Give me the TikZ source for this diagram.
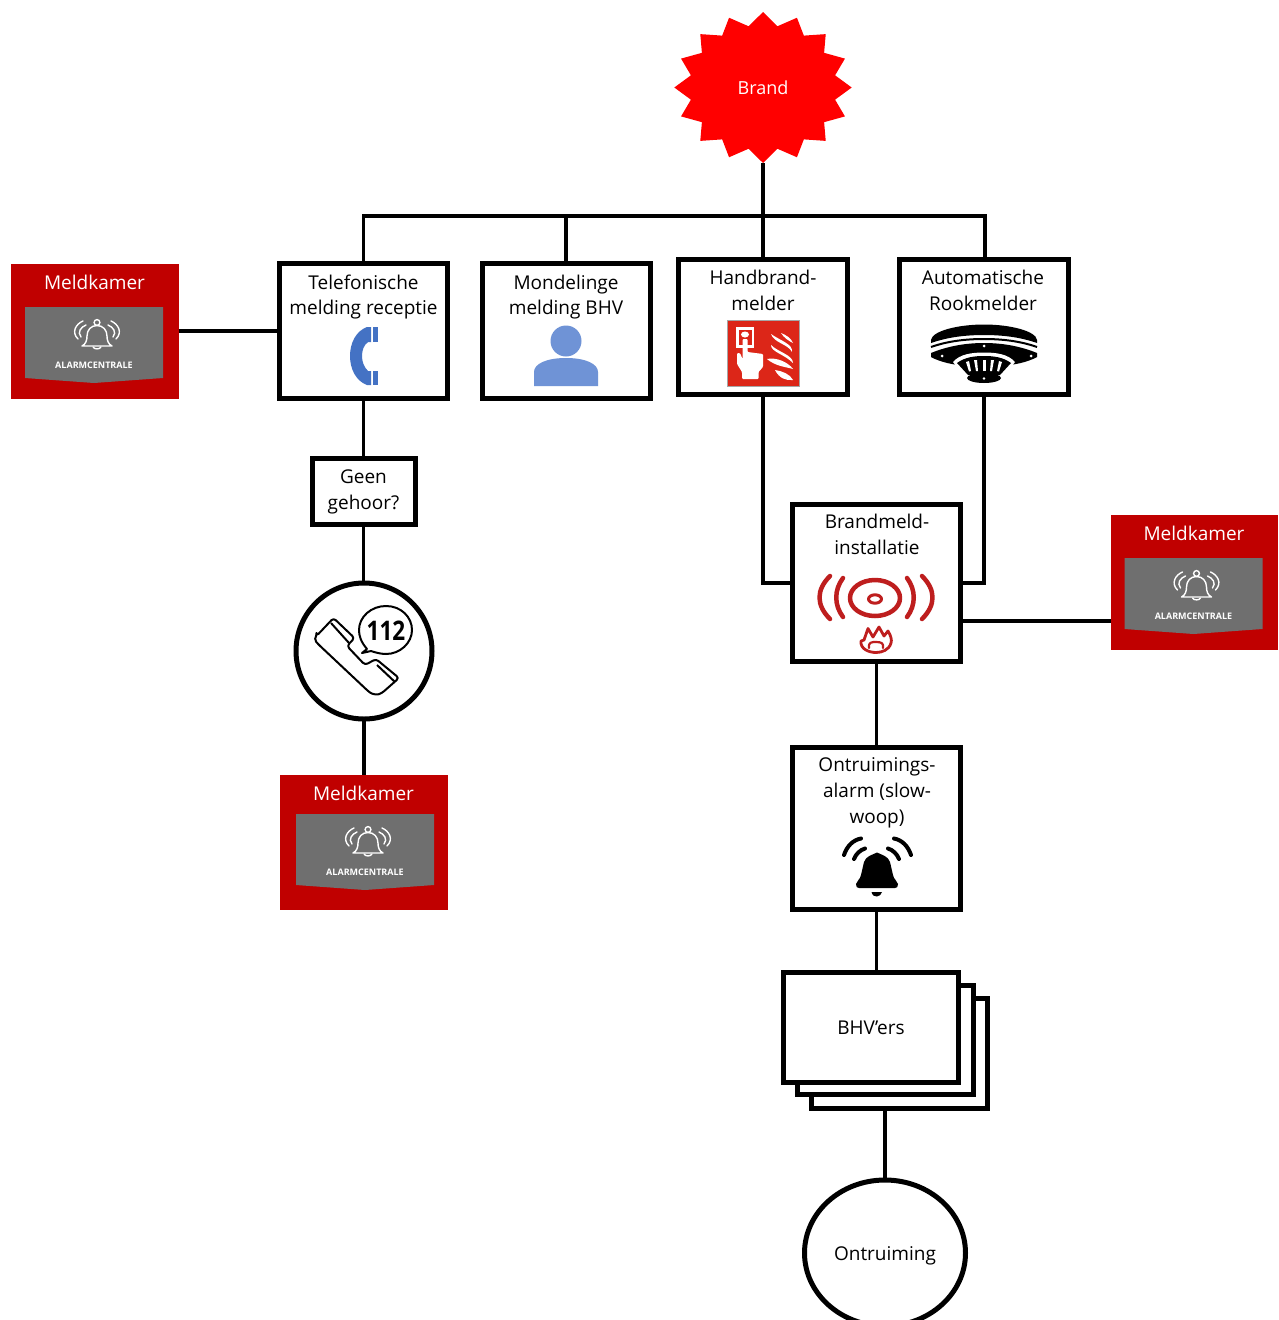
\documentclass[tikz,border=0pt]{standalone}
\usepackage{fontspec}
\usepackage{graphicx}
\usetikzlibrary{shapes.geometric,calc}
\setmainfont{Open Sans}
\definecolor{mkred}{HTML}{C00000}
\definecolor{mkgrey}{HTML}{6F6F6F}
\definecolor{phoneblue}{HTML}{4472C4}
\definecolor{personblue}{HTML}{6F93D6}
\definecolor{signred}{HTML}{DC2618}
\definecolor{alarmred}{HTML}{BE1E1E}
\tikzset{
  box/.style={draw=black,line width=5pt,fill=white,rectangle,inner sep=0pt,outer sep=0pt},
  conn/.style={draw=black,line width=3.2pt},
  lbl/.style={inner sep=0pt,align=center,text=black,font=\fontsize{19}{25.8}\selectfont},
  mktitle/.style={inner sep=0pt,text=white,font=\fontsize{19}{24}\selectfont},
  mksub/.style={inner sep=0pt,text=white,font=\bfseries\fontsize{9}{10}\selectfont},
  mkline/.style={draw=white,line width=1.4pt,line cap=round,line join=round},
  redline/.style={draw=alarmred,line cap=round,line join=round},
}
% name, left, top, panel shift x, panel shift y
\newcommand{\mkbox}[5]{%
  \node[fill=mkred,rectangle,minimum width=167.5pt,minimum height=135pt,inner sep=0pt,outer sep=0pt,anchor=north west] (#1) at (#2,#3) {};
  \node[mktitle] (#1title) at ($(#1.north west)+(83.5,18)$) {Meldkamer};
  \begin{scope}[shift={(#2,#3)},shift={(#4,#5)}]
    \fill[mkgrey] (14,43) -- (152,43) -- (152,114) -- (83,119) -- (14,114) -- cycle;
    \node[mksub] (#1sub) at (83,101) {ALARMCENTRALE};
    \draw[mkline] (86,58.5) circle (2.9);
    \draw[mkline] (71,82) .. controls (75,80) and (76,76) .. (76,72) .. controls (76,66) and (80,61.5) .. (86,61.5) .. controls (92,61.5) and (96,66) .. (96,72) .. controls (96,76) and (97,80) .. (101,82) -- cycle;
    \draw[mkline] (82,83) .. controls (83,85.5) and (89,85.5) .. (90,83);
    \draw[mkline] (72,57) .. controls (65,60) and (60,68) .. (67,75);
    \draw[mkline] (75,61) .. controls (70,63) and (66,68) .. (70,73);
    \draw[mkline] (100,57) .. controls (107,60) and (112,68) .. (105,75);
    \draw[mkline] (97,61) .. controls (102,63) and (106,68) .. (102,73);
  \end{scope}
}
\begin{document}
\begin{tikzpicture}[x=1pt,y=-1pt]
\clip (0,0) rectangle (1279,1320);
\fill[white] (0,0) rectangle (1279,1320);

% Brand star
\fill[red] plot[samples=33,domain=90:450,variable=\t]
  ({763+(mod(round((\t-90)/11.25),2)==0?88.7:73.5)*cos(\t)},{87.5-(mod(round((\t-90)/11.25),2)==0?75.5:62.4)*sin(\t)}) -- cycle;
\node[circle,inner sep=0pt,minimum size=151pt,outer sep=0pt] (brand) at (763,87.5) {};
\node[inner sep=0pt,text=white,font=\fontsize{18}{24}\selectfont] (brandtxt) at (763,88) {Brand};

% Boxes
\node[box,minimum width=168pt,minimum height=135pt] (tel) at (363.5,331) {};
\node[box,minimum width=168pt,minimum height=135.5pt] (mond) at (566,331.2) {};
\node[box,minimum width=169pt,minimum height=135pt] (hand) at (763,327) {};
\node[box,minimum width=169pt,minimum height=135pt] (auto) at (984,327) {};
\node[box,minimum width=103pt,minimum height=66pt] (geen) at (363.5,491) {};
\node[box,circle,minimum size=136pt] (call) at (364,651) {};
\node[box,minimum width=168pt,minimum height=157pt] (bmi) at (876.5,583) {};
\node[box,minimum width=168pt,minimum height=162.5pt] (ont) at (876.5,828.7) {};
\node[box,minimum width=176pt,minimum height=110pt] (bhvc) at (899.5,1053.5) {};
\node[box,minimum width=176pt,minimum height=109pt] (bhvb) at (885.5,1040) {};
\node[box,minimum width=175pt,minimum height=110pt] (bhva) at (871,1027.5) {};
\node[box,ellipse,minimum width=161pt,minimum height=146pt] (ontr) at (885,1253) {};

\mkbox{mkl}{11}{264}{0}{0}
\mkbox{mkr}{1110.5}{515}{0}{0}
\mkbox{mkb}{280}{775}{2}{-4}

% Labels
\node[lbl] (teltxt) at (363.5,297) {Telefonische\\melding receptie};
\node[lbl] (mondtxt) at (566,297) {Mondelinge\\melding BHV};
\node[lbl] (handtxt) at (763,290) {Handbrand-\\melder};
\node[lbl] (autotxt) at (983,290) {Automatische\\Rookmelder};
\node[lbl] (geentxt) at (363.5,492) {Geen\\gehoor?};
\node[lbl] (bmitxt) at (877,534) {Brandmeld-\\installatie};
\node[lbl] (onttxt) at (877,792.5) {Ontruimings-\\alarm (slow-\\woop)};
\node[lbl] (bhvtxt) at (871,1028) {BHV\symbol{39}ers};
\node[lbl] (ontrtxt) at (885,1255.5) {Ontruiming};

% Connectors
\coordinate (barr) at (985,216);
\coordinate (yb) at (0,621);
\draw[conn] (brand.south) -- (hand.north);
\draw[conn] (tel.north) |- (barr) -- (barr |- auto.north);
\draw[conn] (mond.north) -- (mond.north |- barr);
\draw[conn] (mkl.east |- tel.west) -- (tel.west);
\draw[conn] (tel.south) -- (geen.north);
\draw[conn] (geen.south) -- (geen.south |- call.north);
\draw[conn] (call.south) -- (call.south |- mkb.north);
\draw[conn] (hand.south) |- (bmi.west);
\draw[conn] (auto.south) |- (bmi.east);
\draw[conn] (bmi.east |- yb) -- (mkr.west |- yb);
\draw[conn] (bmi.south) -- (ont.north);
\draw[conn] (ont.south) -- (ont.south |- bhva.north);
\draw[conn] (ontr.north |- bhvc.south) -- (ontr.north);

% Phone icon
\fill[phoneblue] (371,327) -- (367,327) .. controls (356,331) and (350,343) .. (350,356) .. controls (350,369) and (356,381) .. (367,385) -- (371,385) -- (371,371) -- (368,371) .. controls (364,367) and (362,362) .. (362,356) .. controls (362,350) and (364,345) .. (368,342) -- (371,342) -- cycle;
\fill[phoneblue] (372.5,327) rectangle (378,342);
\fill[phoneblue] (372.5,371) rectangle (378,385);

% Person icon
\fill[personblue] (566,341) circle (15.5);
\fill[personblue] (534,386) -- (534,372) .. controls (534,364) and (546,358) .. (566,358) .. controls (586,358) and (598,364) .. (598,372) -- (598,386) -- cycle;

% Fire alarm sign
\fill[signred,draw=black!35,line width=1pt] (727.5,320.5) rectangle (799,386);
\fill[white] (736,327) rectangle (754,348);
\fill[signred] (738.5,329.5) rectangle (751.5,345);
\fill[white] (745,334.5) ellipse (4 and 3);
\fill[white,rounded corners=1pt] (742.5,339) -- (747.5,339) -- (747.5,352) -- (763,354) -- (763,367) -- (758.5,372) -- (758.5,379) -- (742,379) -- (742,372) -- (737,364) -- (737,353) -- (740,353) -- (742.5,359) -- cycle;
\fill[white] (771,334) .. controls (774,343) and (788,344) .. (792,352) .. controls (793,344) and (781,341) .. (771,334) -- cycle;
\fill[white] (781,333) .. controls (786,335) and (791,338) .. (793,343) .. controls (789,341) and (784,338) .. (781,333) -- cycle;
\fill[white] (771,345) .. controls (771,352) and (784,354) .. (793,363) .. controls (793,355) and (778,352) .. (771,345) -- cycle;
\fill[white] (767,359) .. controls (776,357) and (788,362) .. (793,369) .. controls (786,367) and (775,366) .. (767,359) -- cycle;
\fill[white] (775,370) .. controls (782,371) and (790,374) .. (793,380) .. controls (786,381) and (779,378) .. (775,370) -- cycle;

% Smoke detector
\fill[black] (931,340) .. controls (932,331) and (958,324.5) .. (984,324.5) .. controls (1010,324.5) and (1036,331) .. (1037,340) -- (1037,343) .. controls (1020,337) and (1002,335) .. (984,335) .. controls (966,335) and (948,337) .. (931,343) -- cycle;
\draw[black,line width=2pt] (931,347) .. controls (948,341) and (966,339) .. (984,339) .. controls (1002,339) and (1020,341) .. (1037,347);
\fill[black] (931,353) .. controls (948,346) and (966,343) .. (984,343) .. controls (1002,343) and (1020,346) .. (1037,353) -- (1037,357) .. controls (1028,362) and (1015,365) .. (1000,366) -- (968,366) .. controls (953,365) and (940,362) .. (931,357) -- cycle;
\fill[white] (984,346) circle (1.5) (942,356) circle (1.5) (1031,356) circle (1.5);
\fill[white] (953,362) .. controls (960,354) and (972,352.5) .. (984,352.5) .. controls (996,352.5) and (1008,354) .. (1015,362) -- (1003,378) -- (965,378) -- cycle;
\fill[black] (957,363) .. controls (965,357) and (975,356) .. (984,356) .. controls (993,356) and (1003,357) .. (1011,363) -- (1000,375) -- (968,375) -- cycle;
\fill[white] (966,362) -- (969,361) -- (971,371) -- (969,371.5) -- cycle;
\fill[white] (974,360) -- (977,360) -- (978,371) -- (976,371) -- cycle;
\fill[white] (982.5,359.5) rectangle (985.5,371);
\fill[white] (991,360) -- (994,360) -- (992,371) -- (990,371) -- cycle;
\fill[white] (999,361) -- (1002,362) -- (999,371.5) -- (997,371) -- cycle;
\fill[black] (984,378) ellipse (17 and 5);
\fill[white] (984,378.5) circle (1.4);

% Alarm icon
\draw[redline,line width=4.5pt] (875,598) ellipse (25 and 18);
\draw[redline,line width=3pt] (875,599) ellipse (6.5 and 4.2);
\draw[redline,line width=4.5pt] (843,578) .. controls (834,590) and (834,605) .. (843,617);
\draw[redline,line width=4.5pt] (830,576) .. controls (816,590) and (816,605) .. (830,619);
\draw[redline,line width=4.5pt] (907,578) .. controls (916,590) and (916,605) .. (907,617);
\draw[redline,line width=4.5pt] (922,576) .. controls (936,590) and (936,605) .. (922,619);
\draw[redline,line width=2.8pt] (864,640) -- (868,628.5) -- (873,637) -- (879,627) -- (884,636) -- (888,631) .. controls (891,636) and (892,640) .. (891,643) .. controls (889,650) and (882,652.5) .. (876,652.5) .. controls (869,652.5) and (860,649) .. (861,641) -- cycle;
\draw[redline,line width=2.2pt] (869,648) .. controls (868,642) and (872,642) .. (876,642) .. controls (881,642) and (884,643) .. (883,648);

% 112 icon
\draw[black,line width=2pt,line join=round,rounded corners=3pt]
  (316.5,636) -- (333.5,618) -- (354.5,638) -- (347,646) -- (365,665) -- (376,659) -- (399,678) -- (382,693) .. controls (377,695) and (372,694) .. (368,691) -- (318,644) .. controls (315.5,641) and (315.5,638) .. (316.5,636) -- cycle;
\draw[black,line width=2pt] (331,623) -- (349,643);
\draw[black,line width=2pt] (377,665) -- (395,682);
\draw[black,line width=2pt,line join=round] (367,649) .. controls (361,642) and (359,636) .. (359,630) .. controls (359,617) and (371,606) .. (386,606) .. controls (401,606) and (412,617) .. (412,630) .. controls (412,643) and (400,654) .. (386,654) .. controls (380,654) and (374,652) .. (371,651) -- (362,653) -- cycle;
\node[inner sep=0pt,text=black,font=\bfseries\fontsize{22.5}{24}\selectfont] (n112) at (386,630.5) {\scalebox{1}[1.2]{112}};

% Bell icon
\fill[black,line join=round] (856,884) .. controls (857,880) and (860,880) .. (861,875) -- (864,862) .. controls (866,856) and (872,855) .. (877,852.5) .. controls (882,855) and (888,856) .. (890,862) -- (893,875) .. controls (894,880) and (897,880) .. (898,884) .. controls (898,887) and (897,888) .. (895,888) -- (859,888) .. controls (857,888) and (856,887) .. (856,884) -- cycle;
\fill[black] (871.5,892) -- (882,892) .. controls (881,897) and (873,899) .. (871.5,892) -- cycle;
\draw[black,line width=4pt,line cap=round] (844,855) .. controls (847,846) and (853,840) .. (861,838.5);
\draw[black,line width=4pt,line cap=round] (854,859) .. controls (856,854) and (860,850) .. (865,848.5);
\draw[black,line width=4pt,line cap=round] (911,855) .. controls (908,846) and (902,840) .. (894,838.5);
\draw[black,line width=4pt,line cap=round] (899,859) .. controls (897,854) and (893,850) .. (888,848.5);
\end{tikzpicture}
\end{document}
